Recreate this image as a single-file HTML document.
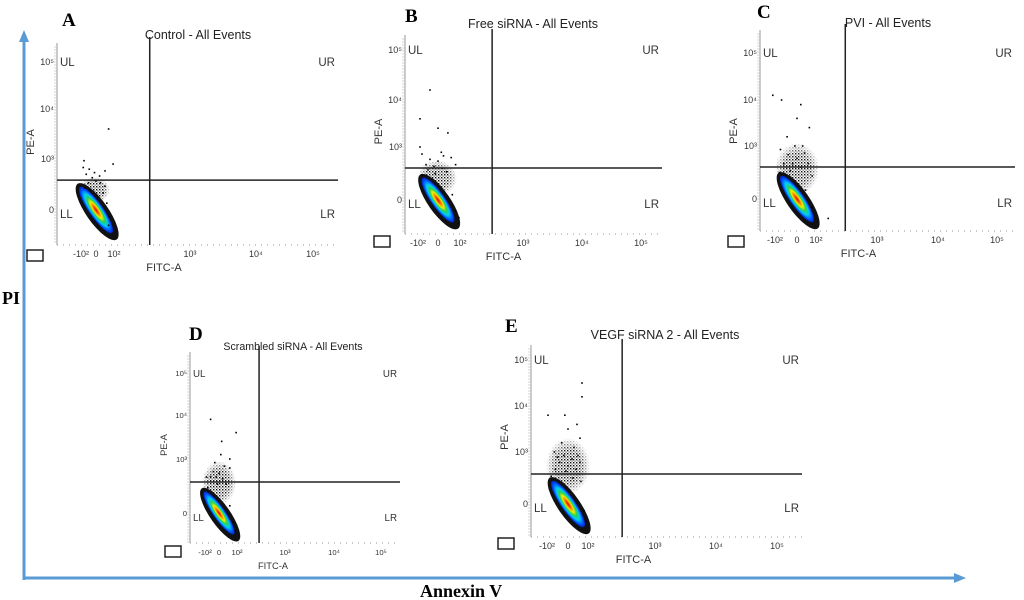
<!DOCTYPE html>
<html><head><meta charset="utf-8">
<style>
body{margin:0;background:#fff;width:1024px;height:600px;overflow:hidden}
svg{display:block}
text{font-family:"Liberation Sans",sans-serif}
text.serif{font-family:"Liberation Serif",serif;font-weight:bold}
</style></head>
<body>
<svg id="fig" width="1024" height="600" viewBox="0 0 1024 600">
<defs>
<radialGradient id="heat" cx="50%" cy="50%" r="50%">
<stop offset="0" stop-color="#e00000"/>
<stop offset="0.2" stop-color="#ff8000"/>
<stop offset="0.35" stop-color="#f0f000"/>
<stop offset="0.5" stop-color="#30d050"/>
<stop offset="0.68" stop-color="#00d0f0"/>
<stop offset="0.85" stop-color="#0060ff"/>
<stop offset="1" stop-color="#0020c0"/>
</radialGradient>
<pattern id="dots" width="3" height="3" patternUnits="userSpaceOnUse">
<rect x="0" y="0" width="1.4" height="1.4" fill="#000"/>
<rect x="1.6" y="1.6" width="1" height="1" fill="#000"/>
</pattern>
<radialGradient id="fade" cx="50%" cy="50%" r="50%">
<stop offset="0" stop-color="#fff" stop-opacity="1"/>
<stop offset="0.6" stop-color="#fff" stop-opacity="0.9"/>
<stop offset="1" stop-color="#fff" stop-opacity="0"/>
</radialGradient>
<mask id="fadeMask" maskContentUnits="objectBoundingBox"><rect x="0" y="0" width="1" height="1" fill="url(#fade)"/></mask>
</defs>
<g>
<line x1="24" y1="580" x2="24" y2="40" stroke="#5b9bd5" stroke-width="3"/>
<polygon points="24,30 19,42 29,42" fill="#5b9bd5"/>
</g>
<g>
<line x1="23" y1="578" x2="955" y2="578" stroke="#5b9bd5" stroke-width="3"/>
<polygon points="966,578 954,573 954,583" fill="#5b9bd5"/>
</g>
<text class="serif" x="2" y="304" font-size="18">PI</text>
<text class="serif" x="420" y="597" font-size="18">Annexin V</text>
</svg>
<script>
// ---- data ----
const panelIds = ["A","B","C","D","E"];
const panelTitles = ["Control - All Events","Free siRNA - All Events","PVI - All Events","Scrambled siRNA - All Events","VEGF siRNA 2 - All Events"];
const gateX = [2.47, 2.51, 2.48, 2.46, 2.51];
const gateY = [1.76, 1.81, 1.81, 1.72, 1.73];
const cloudCenterX = [0, 0, 0, 0, 0];
const cloudCenterY = [0, 0, 0, 0, 0];
const xTickValues = [-2, 0, 2, 3, 4, 5];
const xTickLabels = ["-10²","0","10²","10³","10⁴","10⁵"];
const yTickValues = [0, 3, 4, 5];
const yTickLabels = ["0","10³","10⁴","10⁵"];
const quadrantLabels = ["UL","UR","LL","LR"];
const eventsA = [[-1.5,1.3],[-1,1.6],[-0.5,1.9],[0,1.7],[0.5,1.6],[1,1.4],[-0.2,2.2],[0.4,2.0],[-1.3,2.1],[-1.7,2.5],[-1.6,2.9],[1.4,3.6],[1.9,2.7],[1.2,0.4],[1.5,-0.4],[1.4,-0.9],[-0.8,1.2],[0.8,1.0],[1.0,2.3],[-0.9,2.4]];
const eventsB = [[-1.6,1.4],[-1.2,2.0],[-0.8,2.3],[-0.4,1.9],[0,2.2],[0.4,1.8],[0.8,1.6],[1.2,2.4],[-1.6,2.6],[-1.8,3.0],[0,3.4],[0.3,2.7],[1.6,2.0],[-1.8,3.6],[-0.8,4.2],[0.9,3.3],[1.3,0.3],[1.6,-0.6],[1.9,-1.0],[-0.3,1.5],[0.5,2.5],[-1.0,1.7]];
const eventsC = [[-1.6,1.5],[-1.2,2.0],[-0.8,2.5],[-0.4,2.0],[0,2.3],[0.4,1.8],[0.8,2.6],[1.2,2.0],[-1.5,2.8],[-0.9,3.2],[0,3.6],[0.4,3.9],[-0.2,3.0],[1.3,3.4],[-2.2,4.1],[-1.4,4.0],[1.6,1.3],[1.6,-0.5],[2.2,-1.1],[0.9,0.5],[-0.6,1.6],[0.6,3.0]];
const eventsD = [[-1.6,1.4],[-1.2,2.0],[-0.8,2.3],[-0.4,2.0],[0,2.2],[0.4,1.9],[0.8,1.6],[1.2,2.5],[-1.8,2.0],[-0.6,2.8],[0.2,3.1],[1.2,3.0],[-1.2,3.9],[1.9,3.6],[0.3,3.4],[1.2,0.4],[1.6,-0.5],[1.8,-1.0],[-0.2,1.6],[0.6,2.6]];
const eventsE = [[-1.6,1.6],[-1.2,2.0],[-0.8,2.4],[-0.4,2.8],[0,2.2],[0.4,2.6],[0.8,2.0],[1.2,2.4],[-1.3,3.0],[-0.6,3.2],[0,3.5],[0.6,3.1],[1.2,3.3],[-1.9,3.8],[-0.3,3.8],[0.9,3.6],[1.4,4.2],[1.4,4.5],[1.3,1.3],[1.6,-0.4],[1.8,-1.0],[-0.2,1.9],[0.5,1.5],[-1.0,2.7],[1.0,2.8]];
const panelEvents = [eventsA, eventsB, eventsC, eventsD, eventsE];

// ---- layout (pixels) ----
const layout = [
 {L:57,T:43,R:338,B:245,xp:[81,96,114,190,256,313],yp:[210,159,109,62],lx:62,ly:26,tx:198,ty:39,gb:[27,250],rx:32,ry:9,fs:1,hz:[-2,-20,16,13]},
 {L:405,T:35,R:662,B:234,xp:[418,438,460,523,582,641],yp:[200,147,100,50],lx:405,ly:22,tx:533,ty:28,gb:[374,236],rx:31,ry:9,fs:1,hz:[-1,-22,20,18]},
 {L:760,T:30,R:1015,B:231,xp:[775,797,816,877,938,997],yp:[199,146,100,53],lx:757,ly:18,tx:888,ty:27,gb:[728,236],rx:32,ry:9,fs:1,hz:[0,-30,22,26]},
 {L:190,T:352,R:400,B:543,xp:[205,219,237,285,334,381],yp:[513,459,415,373],lx:189,ly:340,tx:293,ty:350,gb:[165,546],rx:30,ry:8,fs:0.85,hz:[0,-30,17,22]},
 {L:531,T:345,R:802,B:537,xp:[547,568,588,655,716,777],yp:[504,452,406,360],lx:505,ly:332,tx:665,ty:339,gb:[498,538],rx:32,ry:9,fs:1,hz:[0,-38,22,28]}
];
const NS="http://www.w3.org/2000/svg";
const fig=document.getElementById('fig');
function el(tag,attrs,parent){const e=document.createElementNS(NS,tag);for(const k in attrs)e.setAttribute(k,attrs[k]);parent.appendChild(e);return e;}
function interp(v,vals,pix){
 let i=0; if(v<=vals[0]) i=0; else if(v>=vals[vals.length-1]) i=vals.length-2; else {while(v>vals[i+1])i++;}
 return pix[i]+(v-vals[i])*(pix[i+1]-pix[i])/(vals[i+1]-vals[i]);
}
panelIds.forEach((id,p)=>{
 const g=layout[p];
 const xs=v=>interp(v,xTickValues,g.xp);
 const ys=v=>interp(v,yTickValues,g.yp);
 const grp=el('g',{},fig);
 
 
 const fs=g.fs;
 const lt=el('text',{x:g.lx,y:g.ly,'class':'serif','font-size':19},grp);lt.textContent=id;
 
 
 const tt=el('text',{x:g.tx,y:g.ty,'text-anchor':'middle','font-size':12.5*fs,fill:'#222'},grp);tt.textContent=panelTitles[p];
 
 
 // axes
 el('line',{x1:g.L,y1:g.T,x2:g.L,y2:g.B,stroke:'#999','stroke-width':1},grp);
 el('line',{x1:g.L,y1:g.B,x2:g.R,y2:g.B,stroke:'#999','stroke-width':1,'stroke-dasharray':'1 5'},grp);
 for(let y=g.T+4;y<g.B;y+=3) el('line',{x1:g.L-3,y1:y,x2:g.L,y2:y,stroke:'#bbb','stroke-width':0.6},grp);
 xTickValues.forEach((v,i)=>{const t=el('text',{x:xs(v),y:g.B+12,'text-anchor':'middle','font-size':9*fs,fill:'#333'},grp);t.textContent=xTickLabels[i];
  
  });
 yTickValues.forEach((v,i)=>{const t=el('text',{x:g.L-3,y:ys(v)+3,'text-anchor':'end','font-size':9*fs,fill:'#333'},grp);t.textContent=yTickLabels[i];
  
  });
 const xa=el('text',{x:(g.xp[3]+g.xp[2])/2+12,y:g.B+26,'text-anchor':'middle','font-size':11*fs,fill:'#333'},grp);xa.textContent='FITC-A';
 
 
 const ya=el('text',{x:0,y:0,'text-anchor':'middle','font-size':11*fs,fill:'#333',transform:`translate(${g.L-23},${(ys(3)+ys(4))/2+8}) rotate(-90)`},grp);ya.textContent='PE-A';
 
 
 const q=[[g.L+3,ys(5)+4,'start'],[g.R-3,ys(5)+4,'end'],[g.L+3,ys(0)+8,'start'],[g.R-3,ys(0)+8,'end']];
 q.forEach((c,i)=>{const t=el('text',{x:c[0],y:c[1],'text-anchor':c[2],'font-size':11.5*fs,fill:'#333'},grp);t.textContent=quadrantLabels[i];
  
  });
 // events
 const cx=xs(cloudCenterX[p]), cy=ys(cloudCenterY[p]);
 const hz=el('ellipse',{cx:cx+g.hz[0],cy:cy+g.hz[1],rx:g.hz[2],ry:g.hz[3],fill:'url(#dots)',mask:'url(#fadeMask)'},grp);
 
 
 const halo=el('ellipse',{cx:cx+2,cy:cy,rx:g.rx+2,ry:g.ry+2,fill:'#111',transform:`rotate(55 ${cx} ${cy})`},grp);
 
 
 const heat=el('ellipse',{cx:cx,cy:cy,rx:g.rx-4,ry:g.ry-2,fill:'url(#heat)',transform:`rotate(55 ${cx} ${cy})`},grp);
 
 
 panelEvents[p].forEach(e=>{const r=el('rect',{x:xs(e[0])-0.8,y:ys(e[1])-0.8,width:1.6,height:1.6,fill:'#000'},grp);
  
  });
 const gx=xs(gateX[p]), gy=ys(gateY[p]);
 const vg=el('line',{x1:gx,y1:g.T-6,x2:gx,y2:g.B,stroke:'#222','stroke-width':1.5},grp);
 
 
 const hg=el('line',{x1:g.L,y1:gy,x2:g.R,y2:gy,stroke:'#222','stroke-width':1.5},grp);
 
 
 const b=el('rect',{x:g.gb[0],y:g.gb[1],width:16,height:11,fill:'none',stroke:'#222','stroke-width':1.5},grp);
 
 
});
</script>
</body></html>
